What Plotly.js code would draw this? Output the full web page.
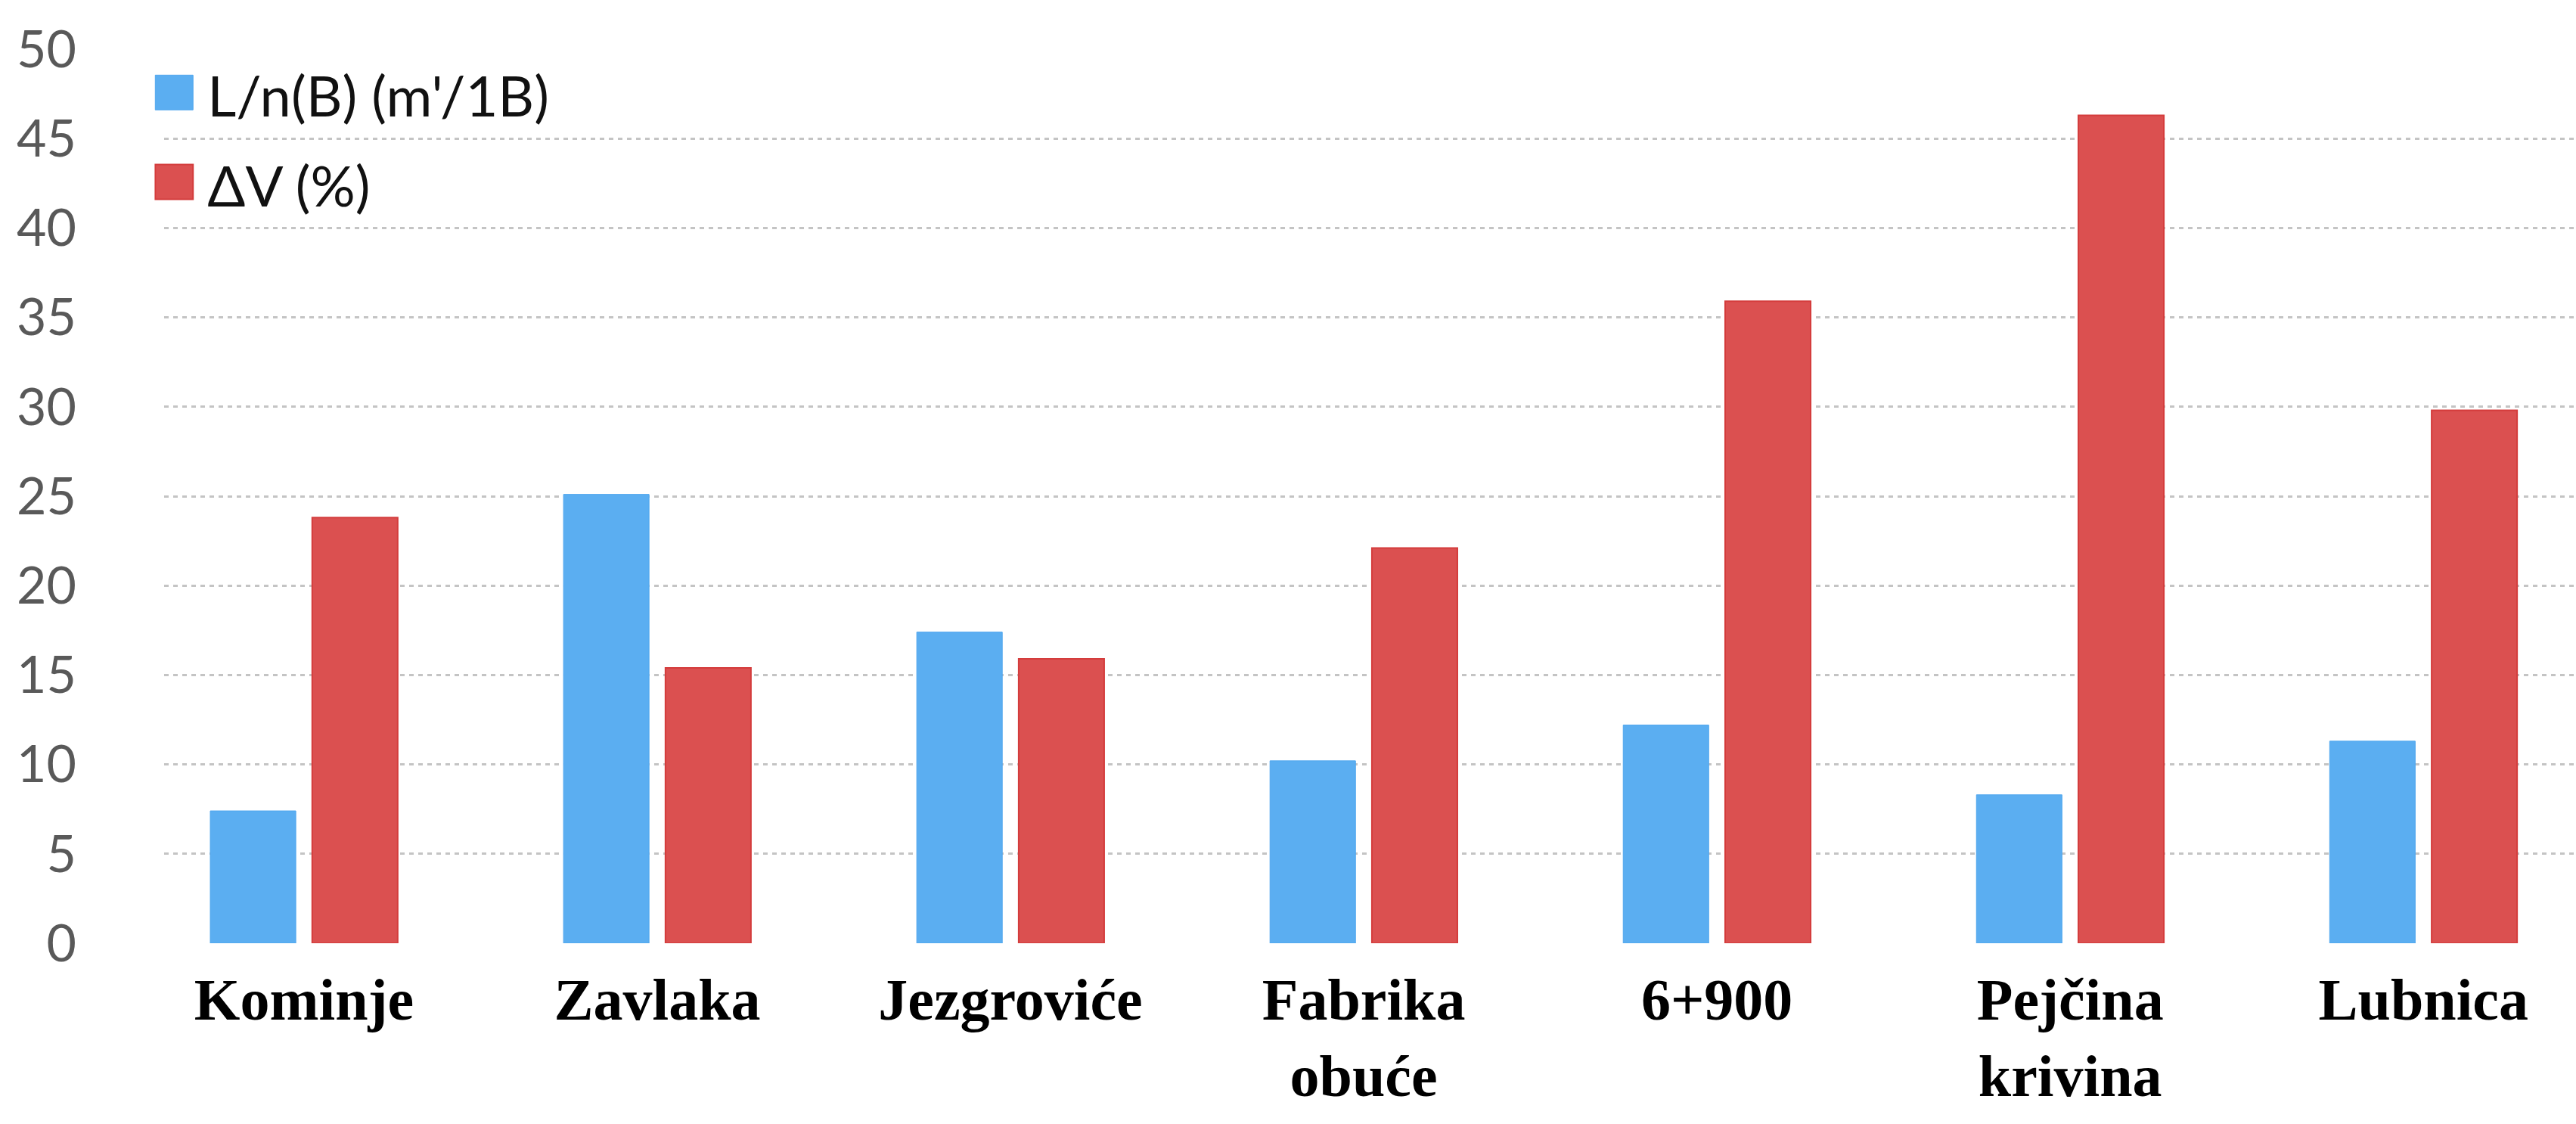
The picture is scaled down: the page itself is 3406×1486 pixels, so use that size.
<!DOCTYPE html>
<html>
<head>
<meta charset="utf-8">
<script src="https://cdn.plot.ly/plotly-3.0.1.min.js"></script>
<style>
  html, body { margin: 0; padding: 0; background: #ffffff; }
  #chart { width: 3406px; height: 1486px; }
</style>
</head>
<body>
<div id="chart"></div>
<script>
const categories = ["Kominje", "Zavlaka", "Jezgroviće", "Fabrika<br>obuće", "6+900", "Pejčina<br>krivina", "Lubnica"];
const seriesNames = ["L/n(B) (m'/1B)", "ΔV (%)"];
const lengthPerBuilding = [7.4, 25.1, 17.4, 10.2, 12.2, 8.3, 11.3];
const deltaV = [23.8, 15.4, 15.9, 22.1, 35.9, 46.3, 29.8];
const yTicks = [0, 5, 10, 15, 20, 25, 30, 35, 40, 45, 50];

const traces = [
  {
    type: "bar",
    name: seriesNames[0],
    legendgroup: "g1",
    x: categories,
    y: lengthPerBuilding,
    marker: { color: "#5BAEF1", line: { color: "#4FA6EE", width: 1 } }
  },
  {
    type: "bar",
    name: seriesNames[1],
    legendgroup: "g2",
    x: categories,
    y: deltaV,
    marker: { color: "#DB5050", line: { color: "#D43C3C", width: 2 } }
  }
];

const layout = {
  width: 3406,
  height: 1486,
  paper_bgcolor: "#ffffff",
  plot_bgcolor: "#ffffff",
  margin: { l: 217, r: 0, t: 65, b: 239, pad: 0 },
  barmode: "group",
  bargap: 0.423,
  bargroupgap: 0.161,
  showlegend: true,
  legend: {
    x: -0.004, y: 0.995, xanchor: "left", yanchor: "top",
    bgcolor: "rgba(0,0,0,0)",
    font: { family: "Lato, 'Open Sans', sans-serif", size: 74, color: "#111111" },
    traceorder: "grouped",
    tracegroupgap: 19,
    itemwidth: 60
  },
  xaxis: {
    type: "category",
    range: [-0.396, 6.432],
    showgrid: false,
    zeroline: false,
    showline: false,
    ticks: "",
    ticklabelstandoff: 22,
    tickfont: { family: "'Liberation Serif', 'Times New Roman', serif", size: 78, color: "#000000", weight: "bold" },
    automargin: false
  },
  yaxis: {
    range: [0, 50],
    tickmode: "array",
    tickvals: yTicks,
    ticktext: yTicks.map(String),
    showgrid: true,
    gridcolor: "#C4C4C4",
    griddash: "6px,6px",
    gridwidth: 3,
    zeroline: false,
    showline: false,
    ticks: "",
    ticklabelstandoff: 115,
    tickfont: { family: "Lato, 'Open Sans', sans-serif", size: 68, color: "#595959" },
    automargin: false
  },
  font: { family: "Lato, sans-serif" }
};

Plotly.newPlot("chart", traces, layout, { displayModeBar: false, staticPlot: true }).then(function (gd) {
  document.querySelectorAll("#chart .legend .traces").forEach(function (tr) {
    const txt = tr.querySelector("text.legendtext");
    const path = tr.querySelector(".legendpoints path");
    if (!txt || !path) return;
    path.setAttribute("d", "M-25,-23H25V23H-25Z");
    path.removeAttribute("transform");
    const tb = txt.getBoundingClientRect();
    const pb = path.getBoundingClientRect();
    const targetCx = tb.left - 44;
    const targetCy = tb.top + tb.height * 0.46;
    const dx = targetCx - (pb.left + pb.width / 2);
    const dy = targetCy - (pb.top + pb.height / 2);
    path.setAttribute("transform", "translate(" + dx + "," + dy + ")");
  });
});
</script>
</body>
</html>
